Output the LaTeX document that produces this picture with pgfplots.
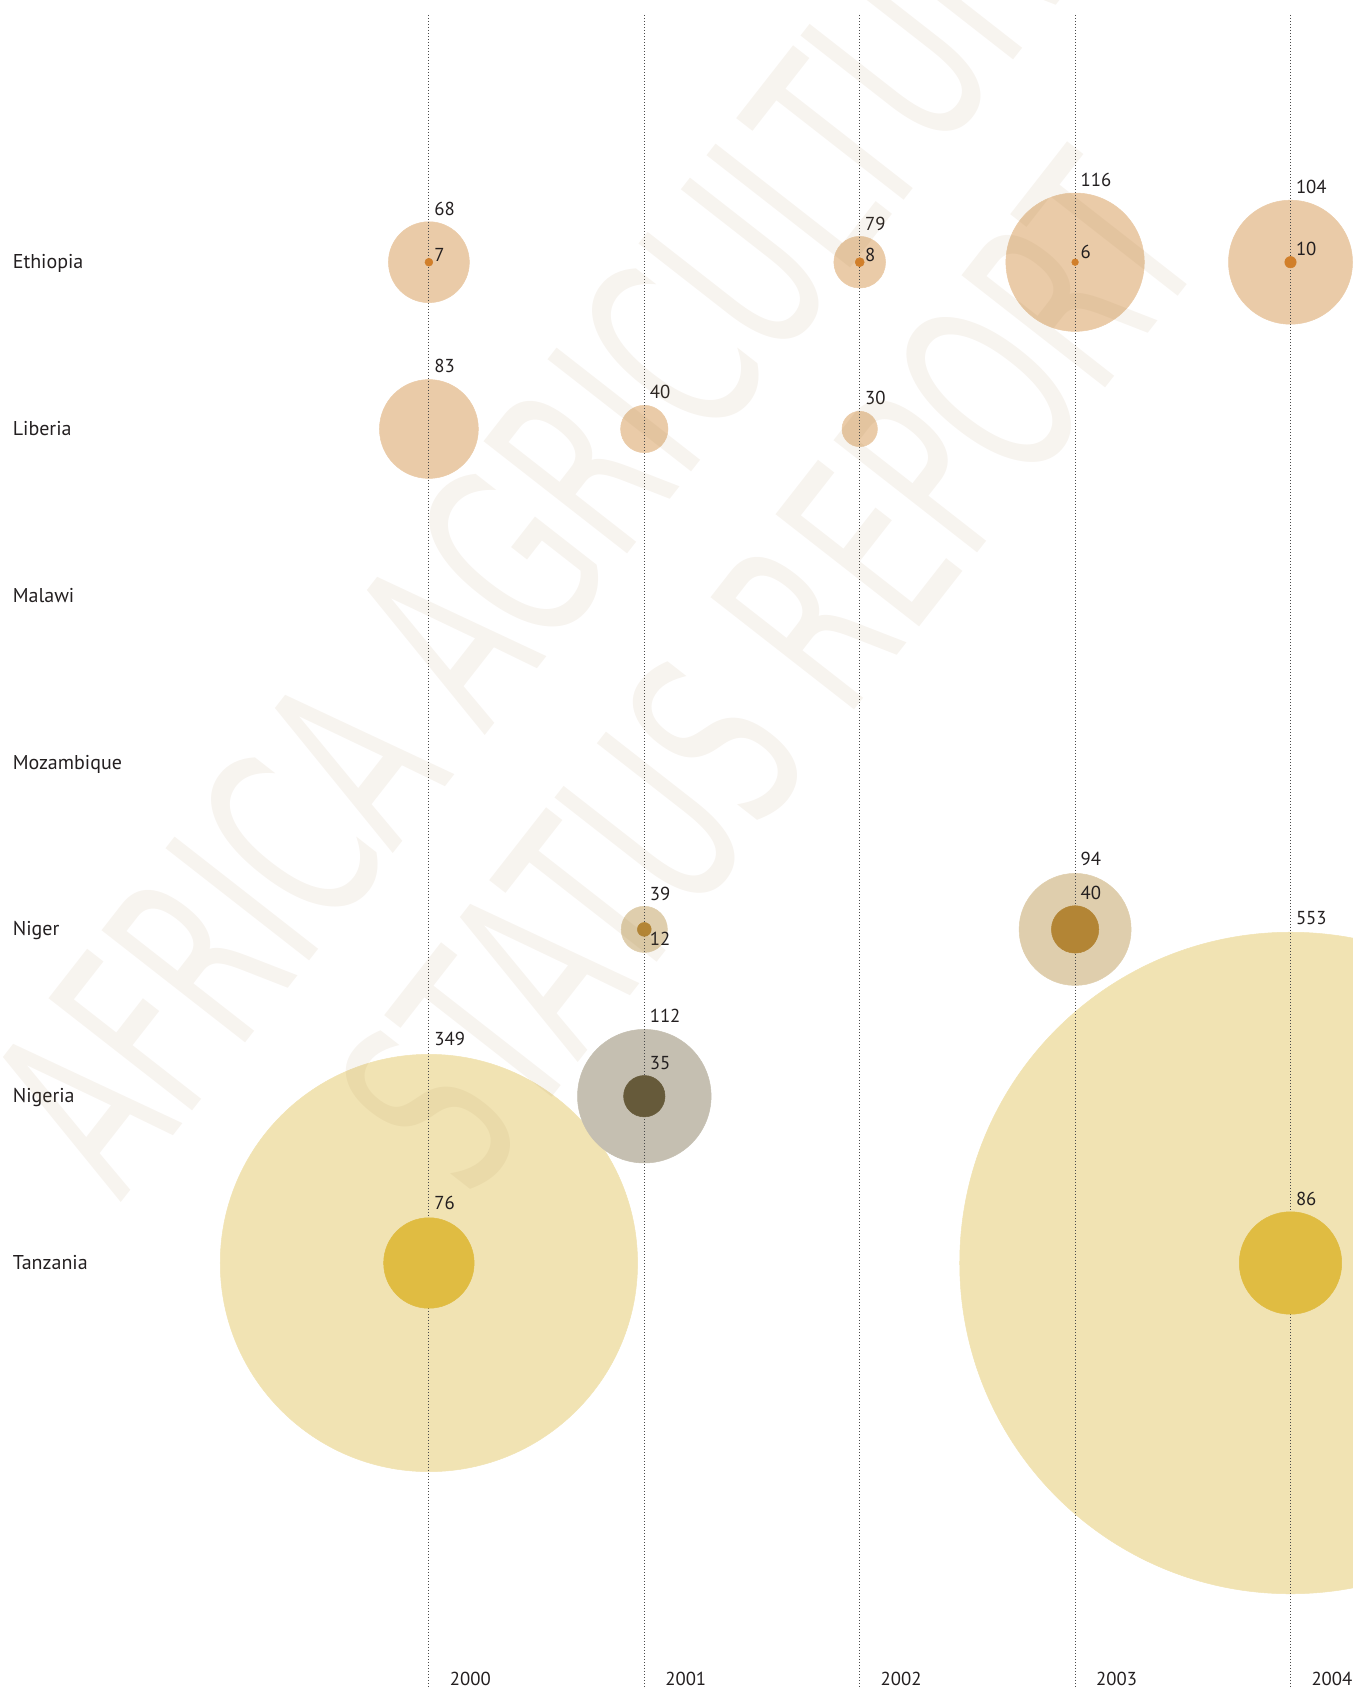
\documentclass[border=0pt]{standalone}
\usepackage{pgfplots}
\pgfplotsset{compat=1.18}
\usepackage{pgfplotstable}
\usepackage{fontspec}
\setmainfont{PT Sans}
\newfontfamily\wmfont{DejaVu Sans}
\definecolor{peach}{HTML}{EACBA8}
\definecolor{orng}{HTML}{D17F2A}
\definecolor{nigerO}{HTML}{DFCEAD}
\definecolor{nigerI}{HTML}{B38535}
\definecolor{nigeriaO}{HTML}{C5BFB1}
\definecolor{nigeriaI}{HTML}{665A3A}
\definecolor{tanO}{HTML}{F1E3B3}
\definecolor{tanI}{HTML}{E0BC42}
\definecolor{txt}{HTML}{231F20}
\definecolor{wm}{HTML}{A17E43}
\definecolor{dotc}{HTML}{4A4A4A}
\newcommand\numfont{\fontsize{7.5}{9}\selectfont}
\newcommand\cfont{\fontsize{8}{9.6}\selectfont}

% x = year index (0 = 2000), y = row index (0 = Ethiopia ... 6 = Tanzania)
% v = value, s = bubble size (value units), ly = label offset (px)
\pgfplotstableread{
x y v s ly
0 6 349 349 217.2
4 6 553 553 338.7
}\tanOuter
\pgfplotstableread{
x y v s ly
0 6 76 76 53.2
4 6 86 86 57.2
}\tanInner
\pgfplotstableread{
x y v s ly
0 0 68 68 47
2 0 79 43.6 31.5
3 0 116 116 75.5
4 0 104 104 68.6
0 1 83 83 56
1 1 40 40 30.2
2 1 30 30 24.3
}\peachOuter
\pgfplotstableread{
x y v s ly
0 0 7 7 1
2 0 8 8 1
3 0 6 6 3.3
4 0 10 10 6.3
}\orngInner
\pgfplotstableread{
x y v s ly
1 4 39 39 28.9
3 4 94 94 63.6
}\nigerOuter
\pgfplotstableread{
x y v s ly
1 4 12 12 -15.7
3 4 40 40 29.5
}\nigerInner
\pgfplotstableread{
x y v s ly
1 5 112 112 74
}\nigeriaOuter
\pgfplotstableread{
x y v s ly
1 5 35 35 26.3
}\nigeriaInner

\pgfplotsset{
  baseax/.style={at={(0pt,0pt)}, anchor=south west,
    width=541.2pt, height=675.6pt, scale only axis,
    xmin=-1.99118, xmax=4.29016, ymin=-1.57194, ymax=8.55396, y dir=reverse,
    hide axis, clip=false,
    /pgf/number format/assume math mode=true},
  bub/.style={scatter, only marks, mark=*, color=#1,
    mark options={draw=#1, fill=#1, line width=0.2pt},
    point meta=explicit,
    visualization depends on={0.23944*\thisrow{s}-0.1 \as \bubrad},
    scatter/use mapped color={draw=#1, fill=#1},
    scatter/@pre marker code/.append style={/tikz/mark size=\bubrad pt},
  },
  lab/.style={only marks, mark=none,
    point meta=explicit,
    visualization depends on={0.4*\thisrow{ly} \as \bublab},
    nodes near coords={\pgfmathprintnumber{\pgfplotspointmeta}},
    every node near coord/.append style={anchor=base west, inner sep=0pt,
      xshift=2pt, yshift=\bublab pt, font=\numfont, text=txt},
  },
}
\tikzset{cname/.style={anchor=base west, inner sep=0pt, font=\cfont, text=txt, yshift=-2.6pt}}

\begin{document}
\begin{tikzpicture}
\useasboundingbox (0pt,0pt) rectangle (541.2pt,675.6pt);
\begin{scope}
\clip (0pt,0pt) rectangle (541.2pt,675.6pt);
% outer bubbles
\begin{axis}[baseax]
\addplot[bub=tanO] table[x=x,y=y,meta=v] {\tanOuter};
\addplot[bub=peach] table[x=x,y=y,meta=v] {\peachOuter};
\addplot[bub=nigerO] table[x=x,y=y,meta=v] {\nigerOuter};
\addplot[bub=nigeriaO] table[x=x,y=y,meta=v] {\nigeriaOuter};
\end{axis}
% dotted year lines and year labels
\begin{axis}[baseax]
\pgfplotsinvokeforeach{0,1,2,3,4}{
  \addplot[dotc, line width=0.4pt, dash pattern=on 0.4pt off 0.8pt, mark=none] coordinates {(#1,-1.48201) (#1,8.55396)};
  \node[anchor=base west, inner sep=0pt, font=\numfont, text=txt, xshift=8.2pt, yshift=1.3pt] at (axis cs:#1,8.55396) {200#1};
}
\end{axis}
% inner bubbles, value labels, country names
\begin{axis}[baseax]
\addplot[bub=tanI] table[x=x,y=y,meta=v] {\tanInner};
\addplot[bub=orng] table[x=x,y=y,meta=v] {\orngInner};
\addplot[bub=nigerI] table[x=x,y=y,meta=v] {\nigerInner};
\addplot[bub=nigeriaI] table[x=x,y=y,meta=v] {\nigeriaInner};
\addplot[lab] table[x=x,y=y,meta=v] {\tanOuter};
\addplot[lab] table[x=x,y=y,meta=v] {\peachOuter};
\addplot[lab] table[x=x,y=y,meta=v] {\nigerOuter};
\addplot[lab] table[x=x,y=y,meta=v] {\nigeriaOuter};
\addplot[lab] table[x=x,y=y,meta=v] {\tanInner};
\addplot[lab] table[x=x,y=y,meta=v] {\orngInner};
\addplot[lab] table[x=x,y=y,meta=v] {\nigerInner};
\addplot[lab] table[x=x,y=y,meta=v] {\nigeriaInner};
\node[cname] at (axis cs:-1.93408,0) {Ethiopia};
\node[cname] at (axis cs:-1.93408,1) {Liberia};
\node[cname] at (axis cs:-1.93408,2) {Malawi};
\node[cname] at (axis cs:-1.93408,3) {Mozambique};
\node[cname] at (axis cs:-1.93408,4) {Niger};
\node[cname] at (axis cs:-1.93408,5) {Nigeria};
\node[cname] at (axis cs:-1.93408,6) {Tanzania};
\end{axis}
\node[rotate=52, xscale=0.6, align=center, font=\wmfont\fontsize{100}{110}\selectfont,
  text=wm, opacity=0.085, inner sep=0pt] at (264.1pt,440.6pt) {AFRICA AGRICULTURE\\STATUS REPORT};
\end{scope}
\end{tikzpicture}
\end{document}
